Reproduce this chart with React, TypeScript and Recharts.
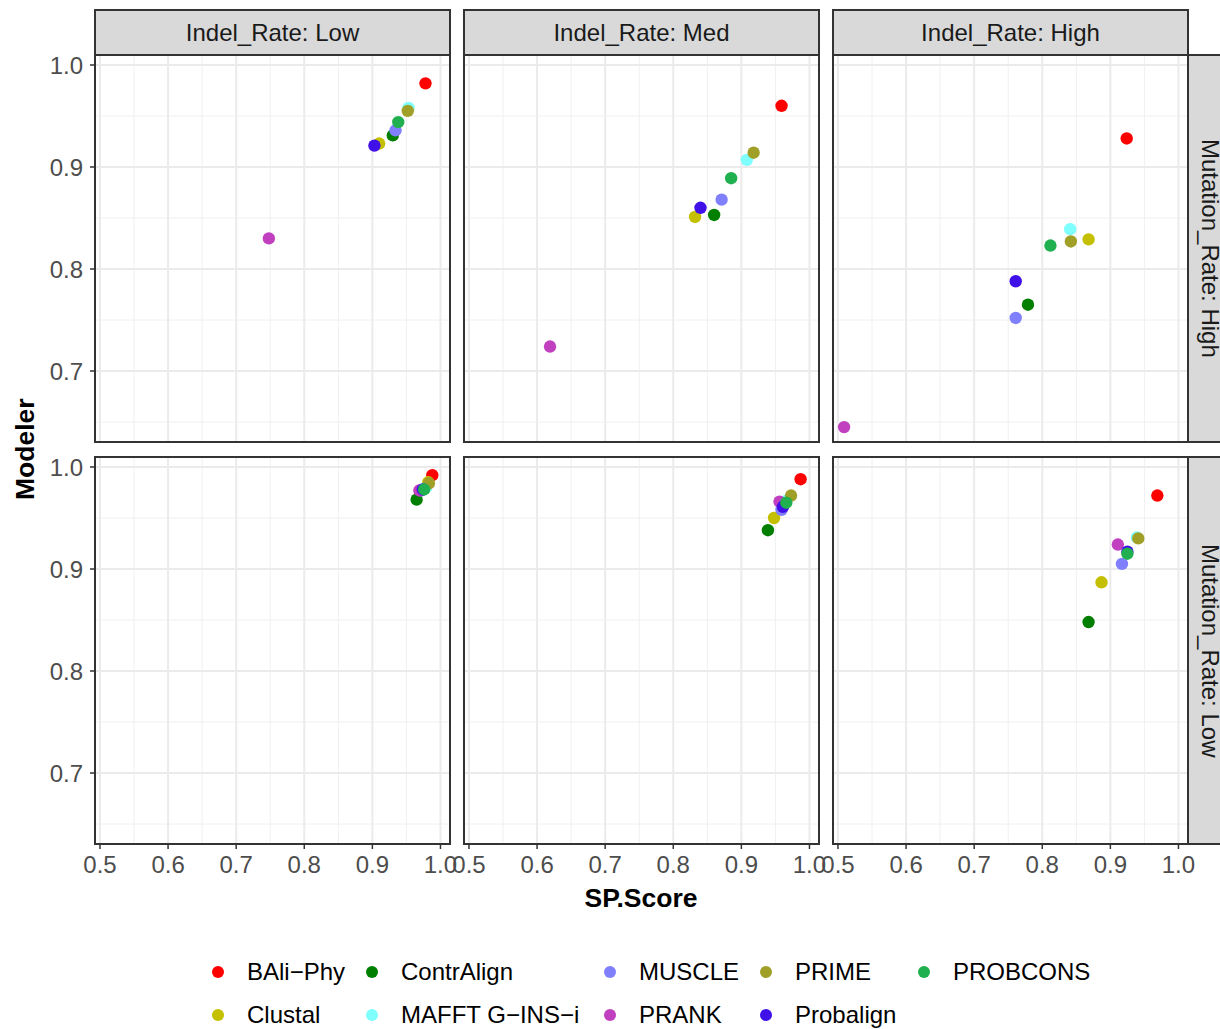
import React from 'react';
import { ScatterChart, Scatter, XAxis, YAxis, ReferenceLine } from 'recharts';

// Panels order: [MutHigh-IndelLow, MutHigh-IndelMed, MutHigh-IndelHigh, MutLow-IndelLow, MutLow-IndelMed, MutLow-IndelHigh]
const indelLabels = ['Indel_Rate: Low', 'Indel_Rate: Med', 'Indel_Rate: High'];
const mutationLabels = ['Mutation_Rate: High', 'Mutation_Rate: Low'];

const methods = ['BAli\u2212Phy', 'Clustal', 'ContrAlign', 'MAFFT G\u2212INS\u2212i', 'MUSCLE', 'PRANK', 'PRIME', 'Probalign', 'PROBCONS'];
const colors = ['#FF0000', '#C4C000', '#007F00', '#80FFFF', '#8080FF', '#C040C0', '#A0A028', '#4010E8', '#20B050'];

const baliphyX = [0.978, 0.959, 0.924, 0.988, 0.987, 0.969];
const baliphyY = [0.982, 0.960, 0.928, 0.992, 0.988, 0.972];
const clustalX = [0.910, 0.832, 0.868, 0.982, 0.948, 0.887];
const clustalY = [0.923, 0.851, 0.829, 0.985, 0.950, 0.887];
const contralignX = [0.930, 0.860, 0.779, 0.965, 0.939, 0.868];
const contralignY = [0.931, 0.853, 0.765, 0.968, 0.938, 0.848];
const mafftX = [0.953, 0.908, 0.841, 0.979, 0.966, 0.939];
const mafftY = [0.958, 0.907, 0.839, 0.980, 0.967, 0.931];
const muscleX = [0.934, 0.871, 0.761, 0.972, 0.959, 0.917];
const muscleY = [0.936, 0.868, 0.752, 0.977, 0.958, 0.905];
const prankX = [0.748, 0.619, 0.509, 0.969, 0.956, 0.911];
const prankY = [0.830, 0.724, 0.645, 0.977, 0.966, 0.924];
const primeX = [0.952, 0.918, 0.842, 0.983, 0.973, 0.941];
const primeY = [0.955, 0.914, 0.827, 0.984, 0.972, 0.930];
const probalignX = [0.903, 0.840, 0.761, 0.974, 0.961, 0.925];
const probalignY = [0.921, 0.860, 0.788, 0.978, 0.961, 0.917];
const probconsX = [0.938, 0.885, 0.812, 0.976, 0.966, 0.925];
const probconsY = [0.944, 0.889, 0.823, 0.978, 0.965, 0.915];

const seriesX = [baliphyX, clustalX, contralignX, mafftX, muscleX, prankX, primeX, probalignX, probconsX];
const seriesY = [baliphyY, clustalY, contralignY, mafftY, muscleY, prankY, primeY, probalignY, probconsY];

const xTicks = [0.5, 0.6, 0.7, 0.8, 0.9, 1.0];
const xMinor = [0.55, 0.65, 0.75, 0.85, 0.95];
const yTicks = [0.7, 0.8, 0.9, 1.0];
const yMinor = [0.65, 0.75, 0.85, 0.95];
const xDomain = [0.4927, 1.014];
const yDomain = [0.6304, 1.0098];

const FONT = '"Liberation Sans", Arial, Helvetica, sans-serif';
const PW = 355;
const PH = 387;
const colLeft = [95, 464, 833];
const rowTop = [55, 457];
const YW = 45;
const XH = 45;
const M = 22;

const legendDotX = [218, 372, 610, 766, 924];
const legendRowY = [972, 1015];

function Panel({ r, c }: { r: number; c: number }) {
  const p = r * 3 + c;
  const showY = c === 0;
  const showX = r === 1;
  const w = PW + (showY ? YW : 0) + 2 * M;
  const h = PH + (showX ? XH : 0) + 2 * M;
  const left = colLeft[c] - (showY ? YW : 0) - M;
  const top = rowTop[r] - M;
  const tickStyle = { fill: '#4D4D4D', fontSize: 24, fontFamily: FONT };
  return (
    <div style={{ position: 'absolute', left, top, width: w, height: h }}>
      <ScatterChart width={w} height={h} margin={{ top: M, right: M, bottom: M, left: M }}>
        <XAxis
          type="number"
          dataKey="x"
          domain={xDomain}
          ticks={xTicks}
          interval={0}
          allowDataOverflow
          hide={!showX}
          height={XH}
          axisLine={false}
          tickSize={5}
          tickMargin={7}
          tickLine={{ stroke: '#333333', strokeWidth: 1.5 }}
          tick={tickStyle}
          tickFormatter={(v: number) => v.toFixed(1)}
        />
        <YAxis
          type="number"
          dataKey="y"
          domain={yDomain}
          ticks={yTicks}
          interval={0}
          allowDataOverflow
          hide={!showY}
          width={YW}
          axisLine={false}
          tickSize={5}
          tickMargin={7}
          tickLine={{ stroke: '#333333', strokeWidth: 1.5 }}
          tick={tickStyle}
          tickFormatter={(v: number) => v.toFixed(1)}
        />
        {xMinor.map((v) => (
          <ReferenceLine key={'xm' + v} x={v} stroke="#F0F0F0" strokeWidth={1} />
        ))}
        {yMinor.map((v) => (
          <ReferenceLine key={'ym' + v} y={v} stroke="#F0F0F0" strokeWidth={1} />
        ))}
        {xTicks.map((v) => (
          <ReferenceLine key={'xM' + v} x={v} stroke="#EBEBEB" strokeWidth={2} />
        ))}
        {yTicks.map((v) => (
          <ReferenceLine key={'yM' + v} y={v} stroke="#EBEBEB" strokeWidth={2} />
        ))}
        {methods.map((m, i) => (
          <Scatter
            key={m}
            name={m}
            data={[{ x: seriesX[i][p], y: seriesY[i][p] }]}
            fill={colors[i]}
            isAnimationActive={false}
            shape={(props: any) => <circle cx={props.cx} cy={props.cy} r={6.2} fill={colors[i]} />}
          />
        ))}
      </ScatterChart>
    </div>
  );
}

export default function App() {
  const panels: React.ReactNode[] = [];
  for (let r = 0; r < 2; r++) for (let c = 0; c < 3; c++) panels.push(<Panel key={r + '-' + c} r={r} c={c} />);
  return (
    <div
      style={{
        position: 'absolute',
        left: 0,
        top: 0,
        width: 1220,
        height: 1029,
        overflow: 'hidden',
        background: '#FFFFFF',
        fontFamily: FONT,
      }}
    >
      {panels}
      {[0, 1].map((r) =>
        [0, 1, 2].map((c) => (
          <div
            key={'b' + r + c}
            style={{
              position: 'absolute',
              left: colLeft[c] - 1,
              top: rowTop[r] - 1,
              width: PW + 2,
              height: PH + 2,
              border: '2px solid #333333',
              boxSizing: 'border-box',
              pointerEvents: 'none',
            }}
          />
        ))
      )}
      {indelLabels.map((t, c) => (
        <div
          key={'s' + c}
          style={{
            position: 'absolute',
            left: colLeft[c] - 1,
            top: 9,
            width: PW + 2,
            height: 47,
            background: '#D9D9D9',
            border: '2px solid #333333',
            boxSizing: 'border-box',
            display: 'flex',
            alignItems: 'center',
            justifyContent: 'center',
            fontSize: 24,
            color: '#1A1A1A',
          }}
        >
          {t}
        </div>
      ))}
      {mutationLabels.map((t, r) => (
        <div
          key={'rs' + r}
          style={{
            position: 'absolute',
            left: 1187,
            top: rowTop[r] - 1,
            width: 47,
            height: PH + 2,
            background: '#D9D9D9',
            border: '2px solid #333333',
            boxSizing: 'border-box',
          }}
        >
          <div
            style={{
              position: 'absolute',
              left: 12,
              top: 0,
              width: 18,
              height: PH - 2,
              display: 'flex',
              alignItems: 'center',
              justifyContent: 'center',
              fontSize: 24,
              lineHeight: '18px',
              color: '#1A1A1A',
              writingMode: 'vertical-rl',
              whiteSpace: 'nowrap',
            }}
          >
            {t}
          </div>
        </div>
      ))}
      <div
        style={{
          position: 'absolute',
          left: 641 - 100,
          top: 883,
          width: 200,
          textAlign: 'center',
          fontWeight: 'bold',
          fontSize: 26.5,
          lineHeight: '30px',
          color: '#000',
        }}
      >
        SP.Score
      </div>
      <div
        style={{
          position: 'absolute',
          left: 10,
          top: 449 - 100,
          width: 30,
          height: 200,
          display: 'flex',
          alignItems: 'center',
          justifyContent: 'center',
          writingMode: 'vertical-rl',
          transform: 'rotate(180deg)',
          fontWeight: 'bold',
          fontSize: 26.5,
          color: '#000',
        }}
      >
        Modeler
      </div>
      {methods.map((m, i) => {
        const col = Math.floor(i / 2);
        const row = i % 2;
        const cx = legendDotX[col];
        const cy = legendRowY[row];
        return (
          <React.Fragment key={'lg' + m}>
            <div
              style={{
                position: 'absolute',
                left: cx - 6,
                top: cy - 6,
                width: 12,
                height: 12,
                borderRadius: 6,
                background: colors[i],
              }}
            />
            <div
              style={{
                position: 'absolute',
                left: cx + 29,
                top: cy - 15,
                height: 30,
                lineHeight: '30px',
                fontSize: 24,
                color: '#000',
                whiteSpace: 'nowrap',
              }}
            >
              {m}
            </div>
          </React.Fragment>
        );
      })}
    </div>
  );
}
